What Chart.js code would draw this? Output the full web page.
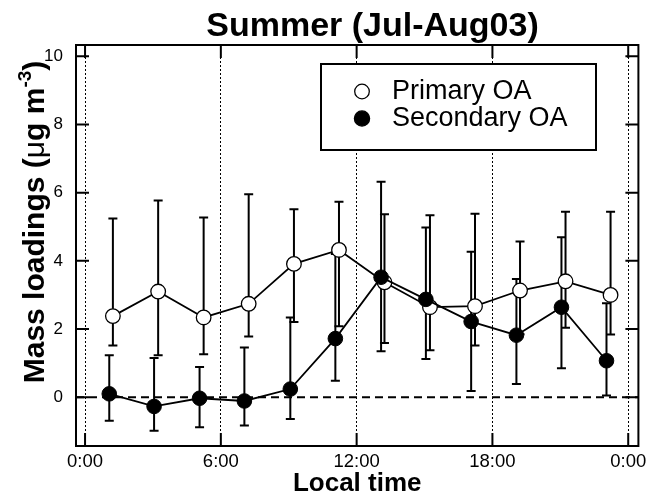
<!DOCTYPE html>
<html><head><meta charset="utf-8">
<script src="https://cdn.jsdelivr.net/npm/chart.js@4/dist/chart.umd.min.js"></script>
<style>html,body{margin:0;padding:0;background:#fff}#wrap{width:647px;height:497px}</style>
</head><body><div id="wrap"><canvas id="c" width="647" height="497"></canvas></div>
<script>
// ---- data (hours of local time, mass loadings in ug m-3) ----
const timePrimary   = [1.23, 3.23, 5.24, 7.23, 9.23, 11.22, 13.23, 15.24, 17.23, 19.22, 21.23, 23.22];
const primaryOA     = [2.38, 3.10, 2.34, 2.74, 3.91, 4.32, 3.37, 2.64, 2.67, 3.13, 3.40, 3.00];
const primaryHigh   = [5.24, 5.77, 5.27, 5.95, 5.51, 5.73, 5.37, 5.34, 5.38, 4.57, 5.44, 5.44];
const primaryLow    = [1.52, 1.23, 1.26, 1.78, 2.21, 2.08, 1.59, 1.38, 1.52, 1.85, 2.04, 1.84];

const timeSecondary = [1.07, 3.05, 5.06, 7.04, 9.07, 11.06, 13.08, 15.06, 17.06, 19.06, 21.05, 23.04];
const secondaryOA   = [0.10, -0.27, -0.03, -0.11, 0.24, 1.72, 3.52, 2.87, 2.22, 1.82, 2.64, 1.07];
const secondaryHigh = [1.23, 1.15, 0.89, 1.46, 2.34, 4.20, 6.32, 4.98, 4.27, 3.47, 4.69, 2.76];
const secondaryLow  = [-0.69, -0.98, -0.88, -0.83, -0.64, 0.48, 1.35, 1.12, 0.18, 0.39, 0.85, 0.05];

const xTickHours  = [0, 6, 12, 18, 24];
const xTickLabels = ['0:00', '6:00', '12:00', '18:00', '0:00'];
const yTickValues = [0, 2, 4, 6, 8, 10];

const seriesNames = ['Primary OA', 'Secondary OA'];
const titleText = 'Summer (Jul-Aug03)';
const xTitleText = 'Local time';

const FONT = "'Liberation Sans', Arial, Helvetica, sans-serif";

const toPts = (xs, ys) => xs.map((x, i) => ({x: x, y: ys[i]}));

const errorSeries = [
  {t: timePrimary, lo: primaryLow, hi: primaryHigh},
  {t: timeSecondary, lo: secondaryLow, hi: secondaryHigh}
];

const decorPlugin = {
  id: 'decor',
  beforeDatasetsDraw(chart) {
    const {ctx, chartArea: a, scales: {x, y}} = chart;
    ctx.save();
    // zero dashed line
    ctx.strokeStyle = '#000';
    ctx.lineWidth = 1.8;
    ctx.setLineDash([8, 5]);
    const y0 = y.getPixelForValue(0);
    ctx.beginPath(); ctx.moveTo(a.left, y0); ctx.lineTo(a.right, y0); ctx.stroke();
    ctx.setLineDash([]);
    // error bars
    ctx.lineWidth = 2;
    errorSeries.forEach(s => {
      s.t.forEach((t, i) => {
        const px = x.getPixelForValue(t);
        const pl = y.getPixelForValue(s.lo[i]);
        const ph = y.getPixelForValue(s.hi[i]);
        ctx.beginPath();
        ctx.moveTo(px, pl); ctx.lineTo(px, ph);
        ctx.moveTo(px - 4.5, pl); ctx.lineTo(px + 4.5, pl);
        ctx.moveTo(px - 4.5, ph); ctx.lineTo(px + 4.5, ph);
        ctx.stroke();
      });
    });
    ctx.restore();
  },
  afterDatasetsDraw(chart) {
    const {ctx, chartArea: a, scales: {x, y}} = chart;
    ctx.save();
    ctx.strokeStyle = '#000';
    ctx.lineWidth = 2;
    // frame
    ctx.strokeRect(a.left, a.top, a.right - a.left, a.bottom - a.top);
    // inward ticks
    const L = 13;
    ctx.beginPath();
    yTickValues.forEach(v => {
      const py = y.getPixelForValue(v);
      ctx.moveTo(a.left, py); ctx.lineTo(a.left + L, py);
      ctx.moveTo(a.right, py); ctx.lineTo(a.right - L, py);
    });
    xTickHours.forEach(v => {
      const px = x.getPixelForValue(v);
      ctx.moveTo(px, a.top); ctx.lineTo(px, a.top + L);
      ctx.moveTo(px, a.bottom); ctx.lineTo(px, a.bottom - L);
    });
    ctx.stroke();

    // legend box
    const bx = 321, by = 64, bw = 275, bh = 86;
    ctx.fillStyle = '#fff';
    ctx.fillRect(bx, by, bw, bh);
    ctx.strokeRect(bx, by, bw, bh);
    // markers
    ctx.lineWidth = 1.3;
    ctx.beginPath(); ctx.arc(362, 91.5, 7.3, 0, Math.PI * 2);
    ctx.fillStyle = '#fff'; ctx.fill(); ctx.stroke();
    ctx.beginPath(); ctx.arc(362, 118.5, 7.6, 0, Math.PI * 2);
    ctx.fillStyle = '#000'; ctx.fill(); ctx.stroke();
    ctx.fillStyle = '#000';
    ctx.font = '27px ' + FONT;
    ctx.textBaseline = 'alphabetic';
    ctx.textAlign = 'left';
    ctx.fillText(seriesNames[0], 392, 98.5);
    ctx.fillText(seriesNames[1], 392, 126);

    // chart title
    ctx.font = 'bold 34px ' + FONT;
    ctx.textAlign = 'center';
    ctx.fillText(titleText, 372.5, 36);
    ctx.textAlign = 'left';

    // y axis title with superscript
    const parts = [
      {t: 'Mass loadings (', f: 'bold 30px ' + FONT, dy: 0},
      {t: '\u03bc', f: '30px ' + FONT, dy: 0},
      {t: 'g m', f: 'bold 30px ' + FONT, dy: 0},
      {t: '-3', f: 'bold 19px ' + FONT, dy: -13},
      {t: ')', f: 'bold 30px ' + FONT, dy: 0}
    ];
    let total = 0;
    parts.forEach(p => { ctx.font = p.f; p.w = ctx.measureText(p.t).width; total += p.w; });
    ctx.translate(44, 222);
    ctx.rotate(-Math.PI / 2);
    let cx = -total / 2;
    parts.forEach(p => { ctx.font = p.f; ctx.fillText(p.t, cx, p.dy); cx += p.w; });
    ctx.restore();
  }
};

new Chart(document.getElementById('c').getContext('2d'), {
  type: 'line',
  data: {
    datasets: [
      {
        label: seriesNames[1], data: toPts(timeSecondary, secondaryOA),
        borderColor: '#000', borderWidth: 1.8, tension: 0,
        pointRadius: 7.3, pointBackgroundColor: '#000', pointBorderColor: '#000', pointBorderWidth: 1,
        order: 0
      },
      {
        label: seriesNames[0], data: toPts(timePrimary, primaryOA),
        borderColor: '#000', borderWidth: 1.8, tension: 0,
        pointRadius: 7.3, pointBackgroundColor: '#fff', pointBorderColor: '#000', pointBorderWidth: 1.3,
        order: 1
      }
    ]
  },
  options: {
    responsive: false, animation: false, devicePixelRatio: 1,
    layout: {padding: {left: 0, right: 8, top: 45, bottom: 0}},
    plugins: {
      legend: {display: false},
      tooltip: {enabled: false},
      title: {display: false}
    },
    scales: {
      x: {
        type: 'linear', min: -0.4, max: 24.45,
        afterBuildTicks: s => { s.ticks = xTickHours.map(v => ({value: v})); },
        afterFit: s => { s.height = 51; s.paddingLeft = 0; s.paddingRight = 0; },
        ticks: {
          callback: (v, i) => xTickLabels[i], color: '#000',
          font: {family: FONT, size: 18.5}, padding: 5, maxRotation: 0, autoSkip: false
        },
        grid: {color: '#000', lineWidth: 1, drawTicks: false},
        border: {display: false, dash: [2, 2]},
        title: {display: true, text: xTitleText, color: '#000',
          font: {family: FONT, size: 26, weight: 'bold'}, padding: {top: 0, bottom: -2}}
      },
      y: {
        type: 'linear', min: -1.43, max: 10.33,
        afterBuildTicks: s => { s.ticks = yTickValues.map(v => ({value: v})); },
        afterFit: s => { s.width = 76; },
        ticks: {color: '#000', font: {family: FONT, size: 17}, padding: 13},
        grid: {display: false, drawTicks: false},
        border: {display: false}
      }
    }
  },
  plugins: [decorPlugin]
});
</script>
</body></html>
